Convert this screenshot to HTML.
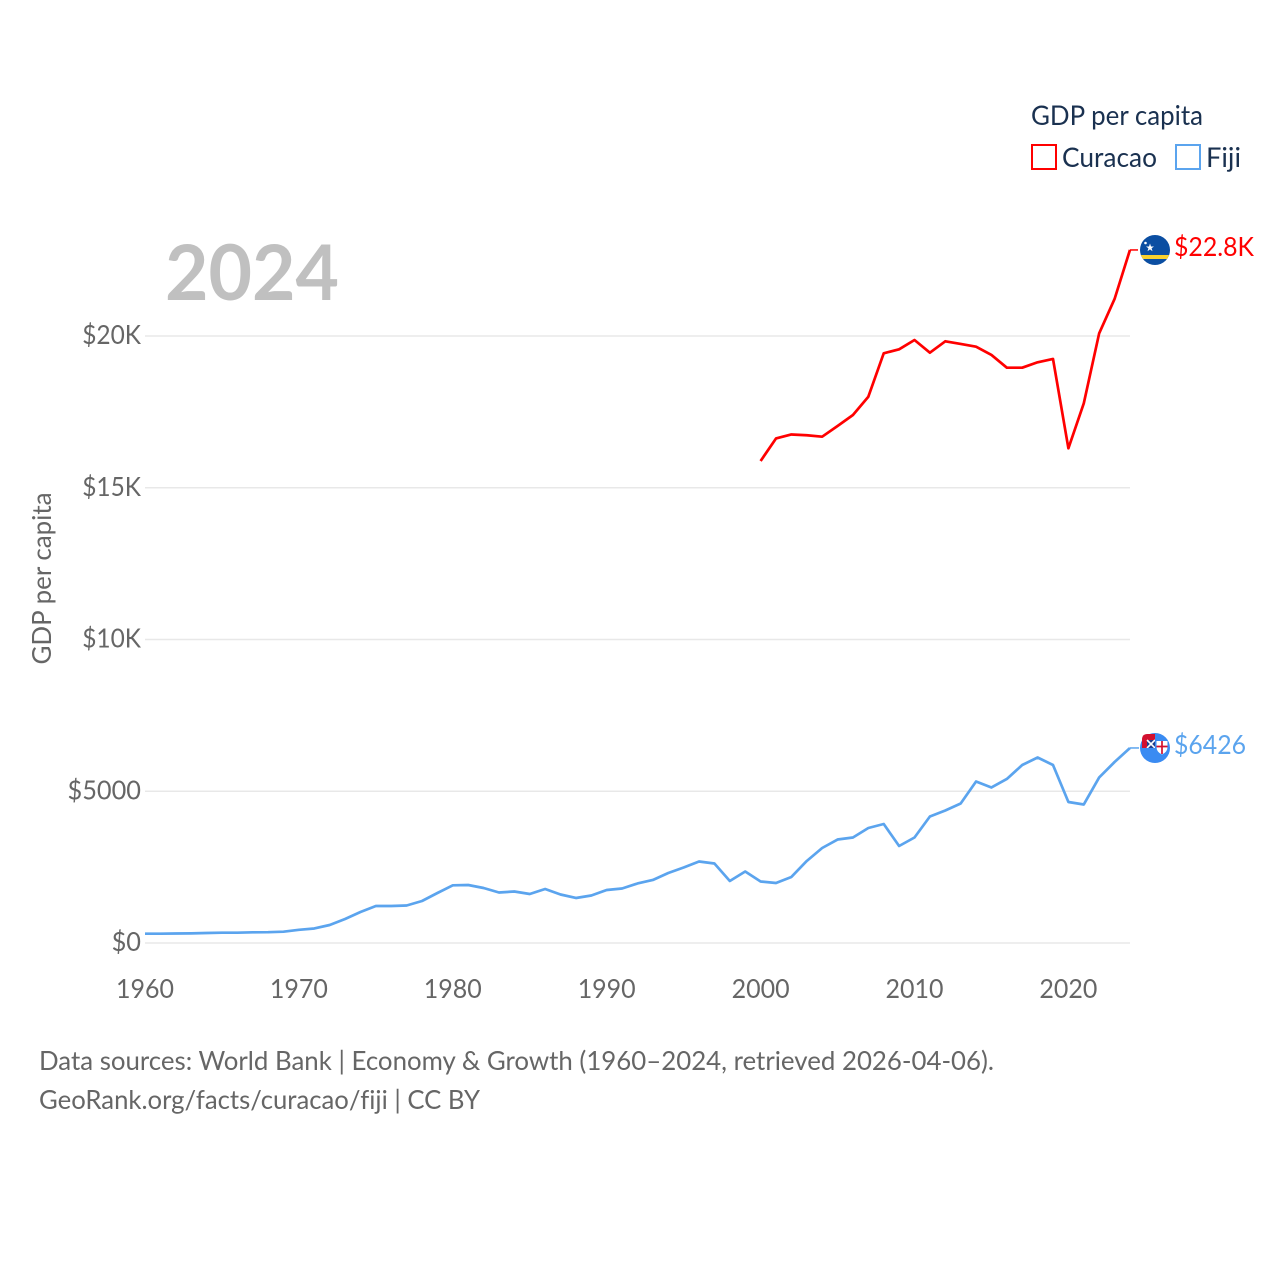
<!DOCTYPE html>
<html lang="en">
<head>
<meta charset="utf-8">
<title>GDP per capita: Curacao and Fiji</title>
<style>
html,body{margin:0;padding:0;background:#fff;width:1280px;height:1280px;overflow:hidden}
svg{display:block}
text{font-family:"Lato","Carlito","Liberation Sans",sans-serif;font-variant-ligatures:none}
.tick{font-size:26px;fill:#666}
.leg{font-size:27px;fill:#1a3150}
.src{font-size:26px;fill:#666}
</style>
</head>
<body>
<svg id="chart" xmlns="http://www.w3.org/2000/svg" width="1280" height="1280" viewBox="0 0 1280 1280">
  <defs>
    <clipPath id="clip-cw"><circle cx="1155" cy="250" r="15"/></clipPath>
    <clipPath id="clip-fj"><circle cx="1155" cy="748" r="15"/></clipPath>
    <clipPath id="clip-fj-q"><path d="M1155 734 H1147.5 Q1142 734 1142 739.5 V748 H1155 Z"/></clipPath>
  </defs>
  <g id="grid"></g>
  <g id="yticks"></g>
  <g id="xticks"></g>
  <text transform="translate(51,664.5) rotate(-90)" font-size="26" fill="#666" textLength="172" lengthAdjust="spacingAndGlyphs">GDP per capita</text>
  <text x="165" y="300" font-size="77" font-weight="700" fill="#c0c0c0" textLength="174" lengthAdjust="spacingAndGlyphs">2024</text>
  <g id="series"></g>

  <g>
    <text x="1031" y="125" class="leg" textLength="172" lengthAdjust="spacingAndGlyphs">GDP per capita</text>
    <rect x="1032" y="145" width="24" height="24" fill="#fff" stroke="#ff0000" stroke-width="2"/>
    <text x="1062" y="167" class="leg" textLength="95" lengthAdjust="spacingAndGlyphs">Curacao</text>
    <rect x="1176" y="145" width="24" height="24" fill="#fff" stroke="#5ba4ee" stroke-width="2"/>
    <text x="1206" y="167" class="leg" textLength="35" lengthAdjust="spacingAndGlyphs">Fiji</text>
  </g>

  <g clip-path="url(#clip-cw)">
    <rect x="1140" y="235" width="30" height="30" fill="#0b4ea2"/>
    <rect x="1140" y="255" width="30" height="4" fill="#f9d12f"/>
    <polygon points="1150,243.5 1151,246.5 1154,246.5 1151.6,248.3 1152.5,251.2 1150,249.4 1147.5,251.2 1148.4,248.3 1146,246.5 1149,246.5" fill="#fff"/>
    <circle cx="1145.5" cy="243" r="1.3" fill="#fff"/>
  </g>
  <text x="1174" y="256" font-size="26" fill="#ff0000" textLength="80" lengthAdjust="spacingAndGlyphs">$22.8K</text>

  <g>
    <g clip-path="url(#clip-fj)">
      <rect x="1140" y="733" width="30" height="30" fill="#3a8bf2"/>
      <path d="M1156.5 741 h11 v6 q0 5 -5.5 7.5 q-5.5 -2.5 -5.5 -7.5z" fill="#fff"/>
      <path d="M1162 741 v13 M1156.5 746.5 h11" stroke="#d2102f" stroke-width="1.7"/>
    </g>
    <g clip-path="url(#clip-fj-q)">
      <rect x="1141" y="733" width="14" height="15" fill="#d2102f"/>
      <rect x="1147" y="740" width="8" height="8" fill="#1f3f8f"/>
      <path d="M1147 740 L1155 748 M1155 740 L1147 748" stroke="#fff" stroke-width="1.6"/>
    </g>
  </g>
  <text x="1174" y="754" font-size="26" fill="#5ba4ee" textLength="72" lengthAdjust="spacingAndGlyphs">$6426</text>

  <g>
    <text x="39" y="1070" class="src" textLength="955" lengthAdjust="spacingAndGlyphs">Data sources: World Bank | Economy &amp; Growth (1960–2024, retrieved 2026-04-06).</text>
    <text x="39" y="1109" class="src" textLength="441" lengthAdjust="spacingAndGlyphs">GeoRank.org/facts/curacao/fiji | CC BY</text>
  </g>
</svg>
<script>
const yearsFiji = [1960,1961,1962,1963,1964,1965,1966,1967,1968,1969,1970,1971,1972,1973,1974,1975,1976,1977,1978,1979,1980,1981,1982,1983,1984,1985,1986,1987,1988,1989,1990,1991,1992,1993,1994,1995,1996,1997,1998,1999,2000,2001,2002,2003,2004,2005,2006,2007,2008,2009,2010,2011,2012,2013,2014,2015,2016,2017,2018,2019,2020,2021,2022,2023,2024];
const valuesFiji = [306,306,313,316,329,339,339,352,356,372,435,478,593,791,1022,1219,1219,1236,1384,1647,1901,1911,1812,1664,1697,1615,1779,1598,1483,1565,1747,1796,1961,2076,2306,2487,2685,2619,2043,2356,2026,1977,2175,2702,3130,3410,3476,3789,3921,3196,3476,4168,4366,4597,5322,5124,5404,5865,6112,5865,4646,4564,5454,5964,6426];
const yearsCuracao = [2000,2001,2002,2003,2004,2005,2006,2007,2008,2009,2010,2011,2012,2013,2014,2015,2016,2017,2018,2019,2020,2021,2022,2023,2024];
const valuesCuracao = [15882,16623,16755,16729,16682,17035,17398,18000,19430,19562,19869,19450,19826,19737,19648,19375,18956,18956,19134,19243,16300,17783,20090,21220,22835];
const yTickValues = [0,5000,10000,15000,20000];
const yTickLabels = ["$0","$5000","$10K","$15K","$20K"];
const xTickValues = [1960,1970,1980,1990,2000,2010,2020];

const NS = "http://www.w3.org/2000/svg";
const xScale = function (year) { return 145 + (year - 1960) * 15.39; };
const yScale = function (value) { return 943 - value * 0.03035; };
const plotRight = xScale(2024);

const gridGroup = document.getElementById("grid");
const yTickGroup = document.getElementById("yticks");
const xTickGroup = document.getElementById("xticks");
const seriesGroup = document.getElementById("series");

yTickValues.forEach(function (v, i) {
  const line = document.createElementNS(NS, "line");
  line.setAttribute("x1", 145);
  line.setAttribute("x2", plotRight);
  line.setAttribute("y1", yScale(v));
  line.setAttribute("y2", yScale(v));
  line.setAttribute("stroke", "#e8e8e8");
  line.setAttribute("stroke-width", "1.5");
  
  
  gridGroup.appendChild(line);

  const label = document.createElementNS(NS, "text");
  label.setAttribute("x", 141);
  label.setAttribute("y", yScale(v) + 8);
  label.setAttribute("text-anchor", "end");
  label.setAttribute("class", "tick");
  label.setAttribute("textLength", yTickLabels[i].length * 14.7);
  label.setAttribute("lengthAdjust", "spacingAndGlyphs");
  label.textContent = yTickLabels[i];
  
  
  yTickGroup.appendChild(label);
});

xTickValues.forEach(function (year) {
  const label = document.createElementNS(NS, "text");
  label.setAttribute("x", xScale(year));
  label.setAttribute("y", 998);
  label.setAttribute("text-anchor", "middle");
  label.setAttribute("class", "tick");
  label.setAttribute("textLength", 58);
  label.setAttribute("lengthAdjust", "spacingAndGlyphs");
  label.textContent = String(year);
  
  
  xTickGroup.appendChild(label);
});

function linePoints(years, values) {
  return years.map(function (y, i) {
    return xScale(y).toFixed(2) + "," + yScale(values[i]).toFixed(2);
  }).join(" ");
}

const connectorFiji = document.createElementNS(NS, "line");
connectorFiji.setAttribute("x1", plotRight);
connectorFiji.setAttribute("x2", 1139);
connectorFiji.setAttribute("y1", yScale(valuesFiji[valuesFiji.length - 1]));
connectorFiji.setAttribute("y2", yScale(valuesFiji[valuesFiji.length - 1]));
connectorFiji.setAttribute("stroke", "#5ba4ee");
connectorFiji.setAttribute("stroke-width", "1.5");


seriesGroup.appendChild(connectorFiji);

const connectorCuracao = document.createElementNS(NS, "line");
connectorCuracao.setAttribute("x1", plotRight);
connectorCuracao.setAttribute("x2", 1138);
connectorCuracao.setAttribute("y1", yScale(valuesCuracao[valuesCuracao.length - 1]));
connectorCuracao.setAttribute("y2", yScale(valuesCuracao[valuesCuracao.length - 1]));
connectorCuracao.setAttribute("stroke", "#ff0000");
connectorCuracao.setAttribute("stroke-width", "1.5");


seriesGroup.appendChild(connectorCuracao);

const lineFiji = document.createElementNS(NS, "polyline");
lineFiji.setAttribute("points", linePoints(yearsFiji, valuesFiji));
lineFiji.setAttribute("fill", "none");
lineFiji.setAttribute("stroke", "#5ba4ee");
lineFiji.setAttribute("stroke-width", "2.7");
lineFiji.setAttribute("stroke-linejoin", "round");


seriesGroup.appendChild(lineFiji);

const lineCuracao = document.createElementNS(NS, "polyline");
lineCuracao.setAttribute("points", linePoints(yearsCuracao, valuesCuracao));
lineCuracao.setAttribute("fill", "none");
lineCuracao.setAttribute("stroke", "#ff0000");
lineCuracao.setAttribute("stroke-width", "2.7");
lineCuracao.setAttribute("stroke-linejoin", "round");


seriesGroup.appendChild(lineCuracao);
</script>
</body>
</html>
